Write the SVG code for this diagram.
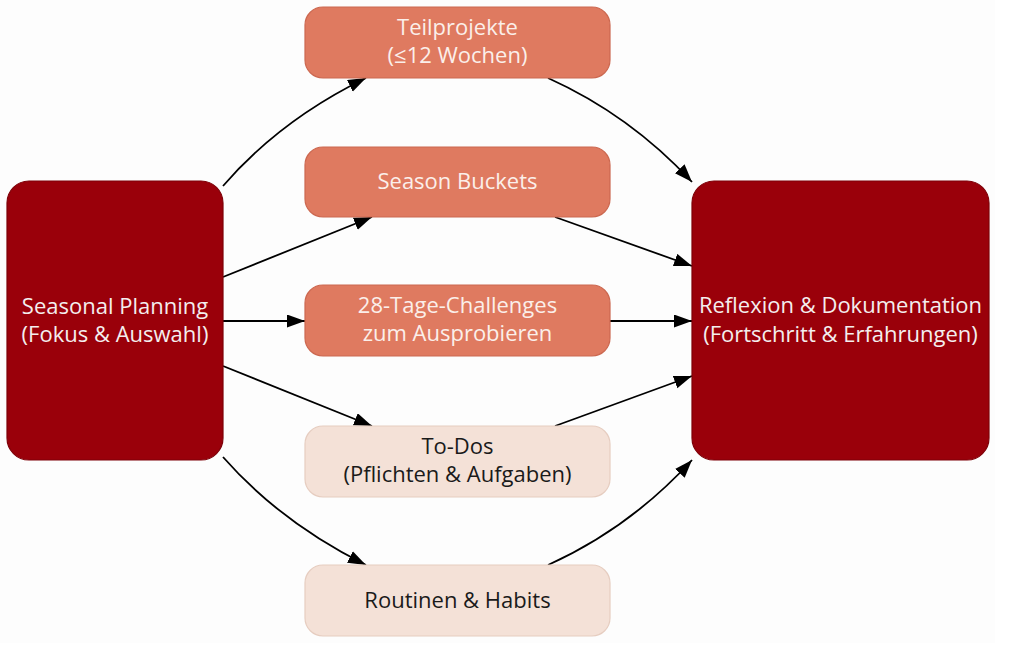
<svg xmlns="http://www.w3.org/2000/svg" width="1024" height="671" viewBox="0 0 1024 671">
  <defs>
    <marker id="arrow" markerUnits="userSpaceOnUse" markerWidth="20" markerHeight="14" refX="18" refY="6.5" orient="auto">
      <path d="M0,0 L18,6.5 L0,13 Z" fill="#000"/>
    </marker>
    <style>
      text { font-family: "Open Sans", "Noto Sans", "Liberation Sans", sans-serif; font-size: 22px; text-anchor: middle; }
      .dark rect { fill: #9a000a; stroke: #7e0008; stroke-width: 1.2; }
      .dark text { fill: #f4eeee; }
      .mid rect { fill: #df7a60; stroke: #cc6850; stroke-width: 1.2; }
      .mid text { fill: #fbefea; }
      .light rect { fill: #f4e1d7; stroke: #e6cdc0; stroke-width: 1.2; }
      .light text { fill: #1a1a1a; }
      .edge { fill: none; stroke: #000; stroke-width: 1.8; marker-end: url(#arrow); }
    </style>
  </defs>
  <rect x="0" y="0" width="1024" height="671" fill="#ffffff"/>
  <rect x="0" y="0" width="995" height="643" fill="#fdfdfd"/>

  <g id="connectors">
    <path class="edge" d="M223,186 Q280,120 366,78"/>
    <path class="edge" d="M223,277 L372,217"/>
    <path class="edge" d="M223,321 L305,321"/>
    <path class="edge" d="M223,366 L372,426"/>
    <path class="edge" d="M223,457 Q280,522 366,565"/>
    <path class="edge" d="M548,78 Q630,115 692,182"/>
    <path class="edge" d="M555,217 L692,266"/>
    <path class="edge" d="M610,321 L692,321"/>
    <path class="edge" d="M555,426 L692,376"/>
    <path class="edge" d="M548,565 Q630,528 692,460"/>
  </g>

  <g id="seasonal-planning" class="dark">
    <rect x="7" y="181" width="216" height="279" rx="22"/>
    <text x="115" y="314">Seasonal Planning</text>
    <text x="115" y="342">(Fokus &amp; Auswahl)</text>
  </g>

  <g id="teilprojekte" class="mid">
    <rect x="305" y="7" width="305" height="71" rx="18"/>
    <text x="457.5" y="35">Teilprojekte</text>
    <text x="457.5" y="63">(≤12 Wochen)</text>
  </g>

  <g id="season-buckets" class="mid">
    <rect x="305" y="147" width="305" height="70" rx="18"/>
    <text x="457.5" y="189">Season Buckets</text>
  </g>

  <g id="challenges" class="mid">
    <rect x="305" y="285" width="305" height="71" rx="18"/>
    <text x="457.5" y="313">28-Tage-Challenges</text>
    <text x="457.5" y="341">zum Ausprobieren</text>
  </g>

  <g id="todos" class="light">
    <rect x="305" y="426" width="305" height="71" rx="18"/>
    <text x="457.5" y="454">To-Dos</text>
    <text x="457.5" y="482">(Pflichten &amp; Aufgaben)</text>
  </g>

  <g id="routinen" class="light">
    <rect x="305" y="565" width="305" height="71" rx="18"/>
    <text x="457.5" y="608">Routinen &amp; Habits</text>
  </g>

  <g id="reflexion" class="dark">
    <rect x="692" y="181" width="297" height="279" rx="22"/>
    <text x="840.5" y="313">Reflexion &amp; Dokumentation</text>
    <text x="840.5" y="342">(Fortschritt &amp; Erfahrungen)</text>
  </g>
</svg>
